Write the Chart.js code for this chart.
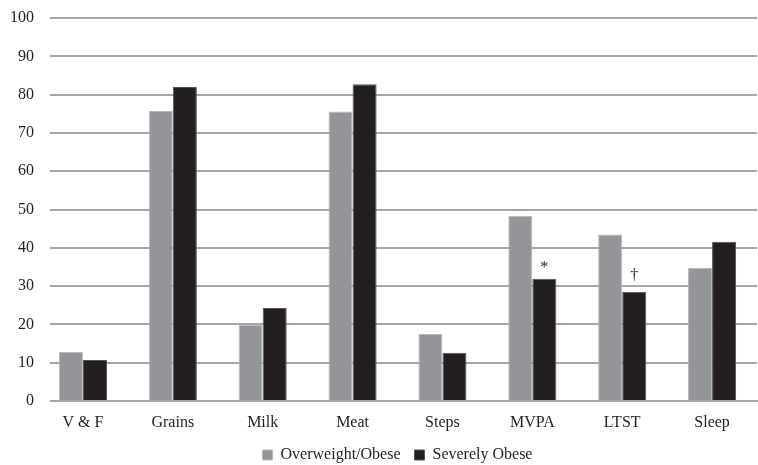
<!DOCTYPE html>
<html>
<head>
<meta charset="utf-8">
<script src="https://cdn.jsdelivr.net/npm/chart.js@4"></script>
<style>
  html, body { margin: 0; padding: 0; background: #fff; }
  #wrap { width: 758px; height: 465px; }
</style>
</head>
<body>
<div id="wrap"><canvas id="chart"></canvas></div>
<script>
const categories = ["V & F", "Grains", "Milk", "Meat", "Steps", "MVPA", "LTST", "Sleep"];
const overweightObese = [12.8, 75.7, 19.9, 75.6, 17.5, 48.4, 43.5, 34.8];
const severelyObese = [10.7, 82.0, 24.3, 82.7, 12.6, 31.9, 28.5, 41.6];
const severeMarks = ["", "", "", "", "", "*", "\u2020", ""];
const yTicks = [0, 10, 20, 30, 40, 50, 60, 70, 80, 90, 100];

const serif = "'Liberation Serif', 'Times New Roman', serif";
Chart.defaults.font.family = serif;
Chart.defaults.font.size = 16;
Chart.defaults.color = "#231f20";

// draws the significance marks above the severely obese bars
const marksPlugin = {
    id: "marks",
    afterDatasetsDraw(chart) {
        const ctx = chart.ctx;
        const meta = chart.getDatasetMeta(1);
        ctx.save();
        ctx.fillStyle = "#231f20";
        ctx.font = "16px " + serif;
        ctx.textAlign = "center";
        ctx.textBaseline = "bottom";
        meta.data.forEach((bar, i) => {
            const mark = severeMarks[i];
            if (mark) ctx.fillText(mark, bar.x, bar.y - (mark === "*" ? 3 : 8));
        });
        ctx.restore();
    }
};

// gridlines in the original start a bit right of the plot's left edge
const gridGapPlugin = {
    id: "gridGap",
    beforeDatasetsDraw(chart) {
        const { ctx, chartArea } = chart;
        ctx.save();
        ctx.fillStyle = "#fff";
        ctx.fillRect(chartArea.left - 2, chartArea.top - 3, 14, chartArea.bottom - chartArea.top + 6);
        ctx.restore();
    }
};

new Chart(document.getElementById("chart"), {
    type: "bar",
    data: {
        labels: categories,
        datasets: [
            {
                label: "Overweight/Obese",
                data: overweightObese,
                backgroundColor: "#939598",
                borderColor: "#b8b9bb",
                borderWidth: 1
            },
            {
                label: "Severely Obese",
                data: severelyObese,
                backgroundColor: "#231f20",
                borderColor: "#555355",
                borderWidth: 1
            }
        ]
    },
    options: {
        responsive: true,
        maintainAspectRatio: false,
        animation: false,
        datasets: {
            bar: {
                categoryPercentage: 0.535,
                barPercentage: 1
            }
        },
        layout: {
            padding: { top: 18, right: 1, left: 6, bottom: 0 }
        },
        scales: {
            x: {
                grid: { display: false, drawTicks: false },
                border: { display: true, color: "#a6a6a6", width: 2 },
                ticks: { padding: 12 },
                afterFit: axis => { axis.height = 32; }
            },
            y: {
                min: 0,
                max: 100,
                afterBuildTicks: axis => { axis.ticks = yTicks.map(v => ({ value: v })); },
                grid: { color: "#a6a6a6", lineWidth: 2, drawTicks: false },
                border: { display: false },
                ticks: { padding: 4 }
            }
        },
        plugins: {
            legend: {
                position: "bottom",
                fullSize: false,
                maxHeight: 32,
                labels: {
                    font: { family: serif, size: 16 },
                    boxWidth: 10,
                    boxHeight: 10,
                    padding: 14,
                    useBorderRadius: false
                }
            },
            tooltip: { enabled: false }
        }
    },
    plugins: [marksPlugin, gridGapPlugin]
});
</script>
</body>
</html>
